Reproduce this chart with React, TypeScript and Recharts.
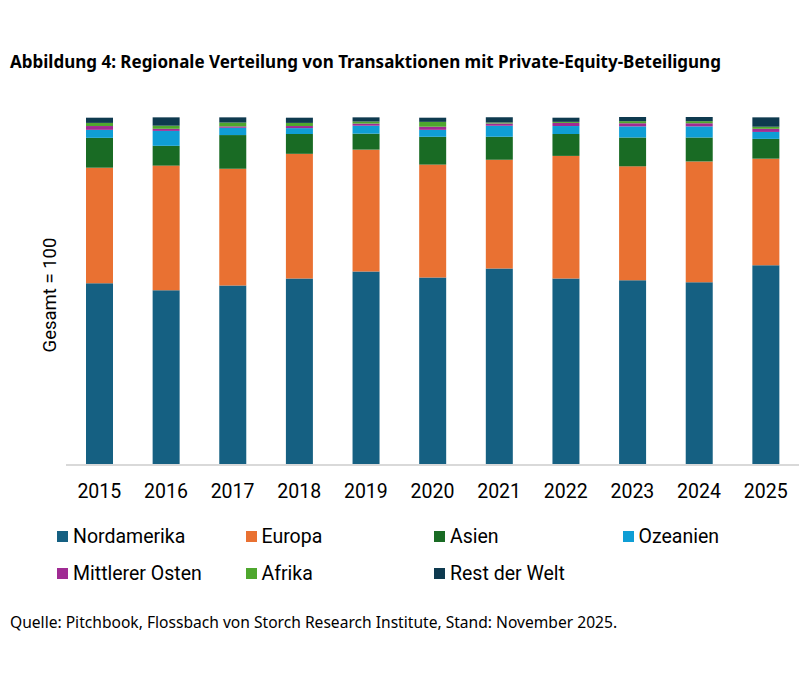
import React from "react";
import { BarChart, Bar, XAxis, YAxis } from "recharts";

const years = ["2015", "2016", "2017", "2018", "2019", "2020", "2021", "2022", "2023", "2024", "2025"];

const nordamerika = [52.3, 50.3, 51.7, 53.7, 55.7, 54.0, 56.6, 53.7, 53.2, 52.6, 57.5];
const europa = [33.3, 35.9, 33.6, 35.9, 35.1, 32.5, 31.3, 35.3, 32.8, 34.8, 30.7];
const asien = [8.6, 5.7, 9.7, 5.7, 4.6, 8.0, 6.6, 6.3, 8.3, 6.9, 5.7];
const ozeanien = [2.3, 4.3, 2.1, 1.7, 2.3, 2.0, 3.2, 2.3, 3.2, 3.2, 2.0];
const mittlererOsten = [1.1, 0.6, 0.4, 0.6, 0.6, 0.9, 0.6, 0.9, 0.9, 0.9, 0.9];
const afrika = [0.9, 0.9, 1.1, 0.9, 0.6, 1.4, 0.3, 0.3, 0.6, 0.6, 0.6];
const restDerWelt = [1.5, 2.4, 1.5, 1.5, 1.2, 1.2, 1.5, 1.2, 1.2, 1.2, 2.7];

const series = [
  { key: "Nordamerika", values: nordamerika, color: "#156082" },
  { key: "Europa", values: europa, color: "#E97132" },
  { key: "Asien", values: asien, color: "#196B24" },
  { key: "Ozeanien", values: ozeanien, color: "#0F9ED5" },
  { key: "Mittlerer Osten", values: mittlererOsten, color: "#A02B93" },
  { key: "Afrika", values: afrika, color: "#4EA72E" },
  { key: "Rest der Welt", values: restDerWelt, color: "#0E3A4F" },
];

const data = years.map((year, i) => {
  const row: Record<string, string | number> = { year };
  series.forEach((s) => {
    row[s.key] = s.values[i];
  });
  return row;
});

const legendRows = [
  ["Nordamerika", "Europa", "Asien", "Ozeanien"],
  ["Mittlerer Osten", "Afrika", "Rest der Welt"],
];

const tickFont = "Roboto, 'Liberation Sans', sans-serif";

export default function App() {
  return (
    <div
      style={{
        position: "absolute",
        left: 0,
        top: 0,
        width: 801,
        height: 686,
        background: "#fff",
        overflow: "hidden",
      }}
    >
      <div
        style={{
          position: "absolute",
          left: 10,
          top: 50,
          fontFamily: "'Noto Sans', sans-serif",
          fontWeight: 700,
          fontSize: 17,
          color: "#000",
          whiteSpace: "nowrap",
        }}
      >
        Abbildung 4: Regionale Verteilung von Transaktionen mit Private-Equity-Beteiligung
      </div>

      <div
        style={{
          position: "absolute",
          left: 50,
          top: 295,
          transform: "translate(-50%, -50%) rotate(-90deg)",
          fontFamily: tickFont,
          fontSize: 18.5,
          color: "#000",
          whiteSpace: "nowrap",
        }}
      >
        Gesamt = 100
      </div>

      <div style={{ position: "absolute", left: 0, top: 0 }}>
        <BarChart
          width={801}
          height={510}
          data={data}
          margin={{ top: 117, right: 2, left: 66, bottom: 0 }}
        >
          <YAxis hide domain={[0, 100]} />
          <XAxis
            dataKey="year"
            height={45}
            axisLine={{ stroke: "#d9d9d9", strokeWidth: 2 }}
            tickLine={false}
            tickMargin={13}
            tick={{ fontSize: 19.5, fill: "#000", fontFamily: tickFont }}
            interval={0}
          />
          {series.map((s) => (
            <Bar
              key={s.key}
              dataKey={s.key}
              stackId="a"
              fill={s.color}
              barSize={27}
              isAnimationActive={false}
            />
          ))}
        </BarChart>
      </div>

      {legendRows.map((row, r) => (
        <div key={r}>
          {row.map((name, c) => {
            const s = series.find((x) => x.key === name)!;
            return (
              <div
                key={name}
                style={{
                  position: "absolute",
                  left: 57 + c * 188.5,
                  top: 524 + r * 37,
                  height: 24,
                  display: "flex",
                  alignItems: "center",
                  fontFamily: tickFont,
                  fontSize: 19.5,
                  color: "#000",
                  whiteSpace: "nowrap",
                }}
              >
                <span
                  style={{
                    display: "inline-block",
                    width: 11,
                    height: 11,
                    background: s.color,
                    marginRight: 5,
                  }}
                />
                {name}
              </div>
            );
          })}
        </div>
      ))}

      <div
        style={{
          position: "absolute",
          left: 10,
          top: 611,
          fontFamily: "'Noto Sans', sans-serif",
          fontSize: 15.6,
          color: "#000",
          whiteSpace: "nowrap",
        }}
      >
        Quelle: Pitchbook, Flossbach von Storch Research Institute, Stand: November 2025.
      </div>
    </div>
  );
}
